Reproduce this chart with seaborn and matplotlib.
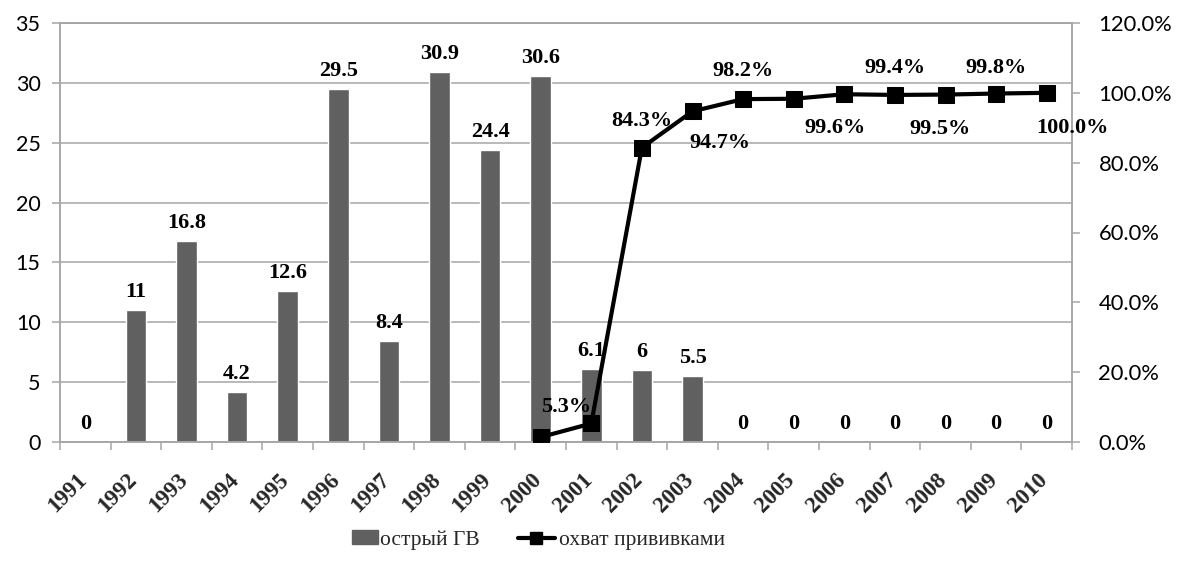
import matplotlib
matplotlib.use("Agg")
import matplotlib.pyplot as plt
import matplotlib.transforms as mtransforms
from matplotlib.ticker import FuncFormatter, FixedLocator, NullFormatter
from matplotlib.lines import Line2D
from matplotlib.patches import Patch
import seaborn as sns
import pandas as pd

# ---- data -------------------------------------------------------------
years = ["1991", "1992", "1993", "1994", "1995", "1996", "1997", "1998", "1999", "2000",
         "2001", "2002", "2003", "2004", "2005", "2006", "2007", "2008", "2009", "2010"]
acute_hbv = [0, 11, 16.8, 4.2, 12.6, 29.5, 8.4, 30.9, 24.4, 30.6,
             6.1, 6, 5.5, 0, 0, 0, 0, 0, 0, 0]

coverage_years = ["2000", "2001", "2002", "2003", "2004", "2005",
                  "2006", "2007", "2008", "2009", "2010"]
coverage_pct = [1.4, 5.3, 84.3, 94.7, 98.2, 98.3, 99.6, 99.4, 99.5, 99.8, 100.0]

# which coverage points carry a value label, and where the label sits (px offset from the marker)
coverage_label_offsets = {
    "2001": (-25, 16), "2002": (0, 27), "2003": (27, -32), "2004": (0, 28),
    "2006": (-9, -34), "2007": (0, 27), "2008": (-5, -34), "2009": (0, 26),
    "2010": (26, -35),
}

legend_labels = ["острый ГВ", "охват прививками"]

# ---- style ------------------------------------------------------------
sns.set_style("white")
plt.rcParams["font.family"] = ["Lato", "DejaVu Sans"]

BAR = "#606060"
GRID = "#a6a6a6"
SERIF = ["Liberation Serif", "DejaVu Serif"]
PX = 72 / 100  # points per pixel at dpi 100
LABEL_SIZE = 16

fig = plt.figure(figsize=(11.77, 5.83), dpi=100)
ax = fig.add_axes([60 / 1177, 1 - 442 / 583, (1072 - 60) / 1177, (442 - 23) / 583])

df = pd.DataFrame({"year": years, "cases": acute_hbv})
sns.barplot(data=df, x="year", y="cases", color=BAR, saturation=1, width=0.41,
            errorbar=None, ax=ax, zorder=2)

ax.set_ylim(0, 35)
ax.set_xlim(-0.5, len(years) - 0.5)
ax.set_yticks(range(0, 36, 5))
ax.yaxis.grid(True, color=GRID, lw=1.1, zorder=0)
ax.set_axisbelow(True)
ax.set_xlabel("")
ax.set_ylabel("")

for side in ["left", "bottom", "right", "top"]:
    ax.spines[side].set_color(GRID)
    ax.spines[side].set_linewidth(1.1)

ax.tick_params(axis="y", which="major", direction="out", length=6, width=1.1,
               color=GRID, labelsize=15.5, labelcolor="black", pad=8, left=True)

# category ticks: marks on boundaries, labels at centres
ax.set_xticks(range(len(years)))
ax.set_xticklabels(years)
ax.xaxis.set_minor_locator(FixedLocator([i - 0.5 for i in range(len(years) + 1)]))
ax.xaxis.set_minor_formatter(NullFormatter())
ax.tick_params(axis="x", which="minor", direction="out", length=6, width=1.1,
               color=GRID, bottom=True)
ax.tick_params(axis="x", which="major", length=0, pad=25)
shift = mtransforms.ScaledTranslation(-2 / 100, 0, fig.dpi_scale_trans)
for lab in ax.get_xticklabels():
    lab.set_rotation(45)
    lab.set_rotation_mode("anchor")
    lab.set_ha("right")
    lab.set_va("center")
    lab.set_fontfamily(SERIF)
    lab.set_fontweight("bold")
    lab.set_fontsize(16.5)
    lab.set_transform(lab.get_transform() + shift)

# bar value labels
for i, v in enumerate(acute_hbv):
    ax.annotate(f"{v:g}", (i, v), xytext=(0, 13 * PX), textcoords="offset points",
                ha="center", va="baseline", fontfamily=SERIF, fontweight="bold",
                fontsize=LABEL_SIZE, color="black", zorder=3)

# ---- coverage line on the secondary axis ------------------------------
ax2 = ax.twinx()
cov_x = [years.index(y) for y in coverage_years]
sns.lineplot(x=cov_x, y=coverage_pct, ax=ax2, color="black", lw=3.0, marker="s",
             markersize=11, markeredgecolor="black", markerfacecolor="black", zorder=4)
ax2.set_ylim(0, 120)
ax2.set_xlim(-0.5, len(years) - 0.5)
ax2.set_yticks(range(0, 121, 20))
ax2.yaxis.set_major_formatter(FuncFormatter(lambda v, _: f"{v:.1f}%"))
ax2.tick_params(axis="y", direction="out", length=6, width=1.1, color=GRID,
                labelsize=15.8, labelcolor="black", pad=13, right=True)
ax2.set_ylabel("")
for side in ["left", "bottom", "right", "top"]:
    ax2.spines[side].set_color(GRID)
    ax2.spines[side].set_linewidth(1.1)
ax2.grid(False)

for y, (dx, dy) in coverage_label_offsets.items():
    k = coverage_years.index(y)
    ax2.annotate(f"{coverage_pct[k]:.1f}%", (cov_x[k], coverage_pct[k]),
                 xytext=(dx * PX, dy * PX), textcoords="offset points",
                 ha="center", va="center", fontfamily=SERIF, fontweight="bold",
                 fontsize=LABEL_SIZE, color="black", zorder=5, annotation_clip=False)

# ---- legend -----------------------------------------------------------
leg_font = {"family": SERIF, "size": 15.5}
fig.legend(handles=[Patch(facecolor=BAR, edgecolor=BAR)], labels=[legend_labels[0]],
           loc="center left", bbox_to_anchor=(352 / 1177, 1 - 540 / 583),
           frameon=False, borderpad=0, borderaxespad=0, handlelength=1.2,
           handleheight=0.6, handletextpad=0.12, prop=leg_font)
fig.legend(handles=[Line2D([], [], color="black", lw=3.0, marker="s", markersize=9)],
           labels=[legend_labels[1]],
           loc="center left", bbox_to_anchor=(518 / 1177, 1 - 540 / 583),
           frameon=False, borderpad=0, borderaxespad=0, handlelength=1.7,
           handletextpad=0.22, prop=leg_font)

fig.savefig("out.png", dpi=100)
